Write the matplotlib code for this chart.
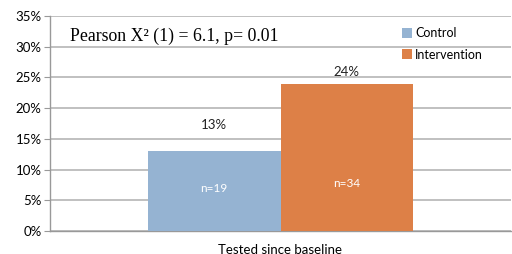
import numpy as np
from matplotlib import pyplot as plt
from matplotlib.ticker import PercentFormatter

category = "Tested since baseline"
groups = ["Control", "Intervention"]
values = [13, 24]
value_labels = ["13%", "24%"]
value_label_y = [17.3, 25.9]
n_labels = ["n=19", "n=34"]
n_label_y = [7.0, 7.8]
colors = ["#95b3d2", "#dd8047"]
yticks = [0, 5, 10, 15, 20, 25, 30, 35]

plt.rcParams['font.family'] = ['Lato', 'DejaVu Sans']

fig = plt.figure(figsize=(5.12, 2.54), dpi=100)
ax = fig.add_axes([50 / 512, 23 / 254, 461 / 512, 215 / 254])

width = 0.288
offsets = [-width / 2, width / 2]
for i in range(len(groups)):
    ax.bar(offsets[i], values[i], width, color=colors[i], label=groups[i], zorder=3)
    ax.text(offsets[i], value_label_y[i], value_labels[i], ha="center", va="center",
            fontsize=9.5, color="#222222")
    ax.text(offsets[i], n_label_y[i], n_labels[i], ha="center", va="center",
            fontsize=8.5, color="white")

ax.set_xlim(-0.5, 0.5)
ax.set_ylim(0, 35)
ax.set_yticks(yticks)
ax.yaxis.set_major_formatter(PercentFormatter(decimals=0))
ax.set_xticks([0])
ax.set_xticklabels([category])
ax.tick_params(axis="x", length=0, labelsize=9.5, pad=9)
ax.tick_params(axis="y", length=4, color="#999999", labelsize=9.5, pad=2)
ax.grid(axis="y", color="#b5b5b5", linewidth=1.2, zorder=0)
for side in ["top", "right"]:
    ax.spines[side].set_visible(False)
for side in ["left", "bottom"]:
    ax.spines[side].set_color("#999999")
    ax.spines[side].set_linewidth(1.0)

ax.text(0.043, 0.905, "Pearson X² (1) = 6.1, p= 0.01", transform=ax.transAxes,
        family="Liberation Serif", fontsize=12.8, va="center", ha="left")

ax.legend(loc="upper left", bbox_to_anchor=(0.74, 1.0), frameon=False,
          fontsize=9, handlelength=0.8, handleheight=0.8, handletextpad=0.2,
          labelspacing=0.75)

fig.savefig("out.png", dpi=100)
